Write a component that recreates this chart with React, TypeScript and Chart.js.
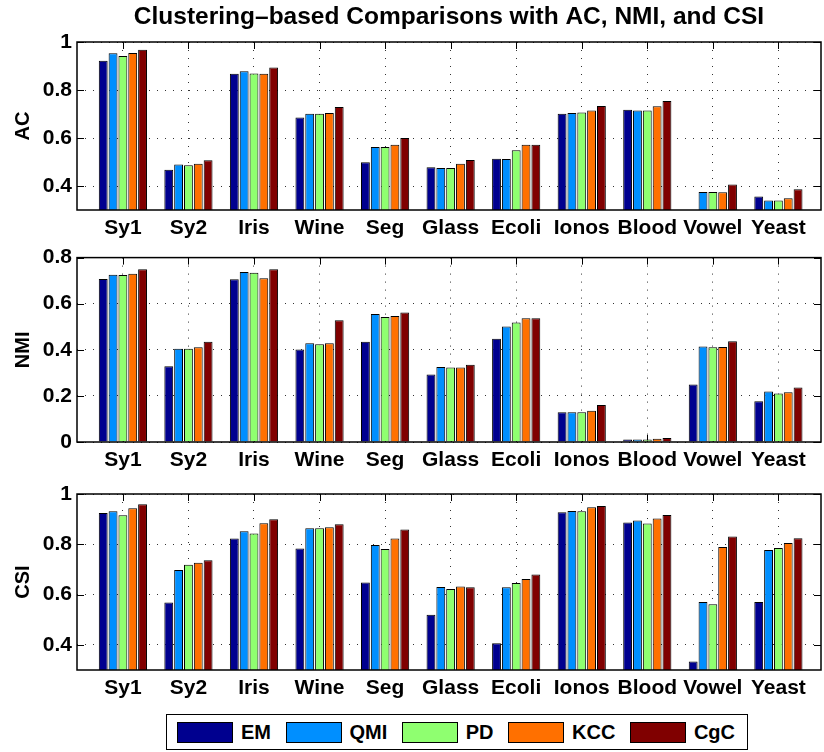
import React, { useEffect, useRef } from 'react';
import { Chart, registerables } from 'chart.js';

Chart.register(...registerables);

const categories = ['Sy1', 'Sy2', 'Iris', 'Wine', 'Seg', 'Glass', 'Ecoli', 'Ionos', 'Blood', 'Vowel', 'Yeast'];
const methods = ['EM', 'QMI', 'PD', 'KCC', 'CgC'];
const methodColors = ['#00008F', '#008FFF', '#8FFF70', '#FF7000', '#800000'];

// rows follow the order of `methods`
const acValues = [
  [0.922, 0.468, 0.868, 0.685, 0.499, 0.478, 0.514, 0.701, 0.718, null, 0.356],
  [0.953, 0.49, 0.878, 0.701, 0.562, 0.475, 0.512, 0.704, 0.715, 0.375, 0.34],
  [0.942, 0.486, 0.869, 0.701, 0.562, 0.475, 0.549, 0.706, 0.715, 0.375, 0.34],
  [0.954, 0.493, 0.868, 0.704, 0.572, 0.493, 0.572, 0.715, 0.732, 0.374, 0.349],
  [0.968, 0.507, 0.894, 0.729, 0.6, 0.508, 0.572, 0.733, 0.754, 0.406, 0.386],
];
const nmiValues = [
  [0.707, 0.329, 0.706, 0.401, 0.435, 0.293, 0.448, 0.129, 0.011, 0.25, 0.177],
  [0.726, 0.405, 0.738, 0.428, 0.555, 0.325, 0.501, 0.129, 0.011, 0.414, 0.219],
  [0.724, 0.405, 0.734, 0.424, 0.542, 0.323, 0.518, 0.129, 0.011, 0.411, 0.21],
  [0.73, 0.411, 0.71, 0.428, 0.547, 0.323, 0.537, 0.136, 0.014, 0.412, 0.216],
  [0.75, 0.435, 0.75, 0.528, 0.562, 0.335, 0.537, 0.16, 0.017, 0.437, 0.236],
];
const csiValues = [
  [0.924, 0.568, 0.823, 0.783, 0.648, 0.52, 0.406, 0.927, 0.887, 0.334, 0.57],
  [0.931, 0.698, 0.852, 0.864, 0.797, 0.63, 0.629, 0.932, 0.895, 0.57, 0.777],
  [0.915, 0.719, 0.843, 0.864, 0.781, 0.622, 0.646, 0.931, 0.883, 0.562, 0.785],
  [0.943, 0.727, 0.884, 0.868, 0.823, 0.632, 0.662, 0.947, 0.903, 0.789, 0.805],
  [0.959, 0.737, 0.9, 0.88, 0.859, 0.629, 0.68, 0.952, 0.916, 0.831, 0.824],
];

const acTicks = [0.4, 0.6, 0.8, 1];
const nmiTicks = [0, 0.2, 0.4, 0.6, 0.8];
const csiTicks = [0.4, 0.6, 0.8, 1];

const chartTitle = 'Clustering\u2013based Comparisons with AC, NMI, and CSI';

const FONT = "'Liberation Sans', Arial, Helvetica, sans-serif";

const frameTicksPlugin = {
  id: 'frameTicks',
  beforeDatasetsDraw(chart: any) {
    const { ctx, chartArea: a, scales } = chart;
    const tl = 7;
    ctx.save();
    ctx.strokeStyle = '#000';
    ctx.lineWidth = 1;
    ctx.beginPath();
    scales.x.ticks.forEach((t: any) => {
      const x = Math.round(scales.x.getPixelForValue(t.value)) + 0.5;
      ctx.moveTo(x, a.top);
      ctx.lineTo(x, a.top + tl);
      ctx.moveTo(x, a.bottom);
      ctx.lineTo(x, a.bottom - tl);
    });
    scales.y.ticks.forEach((t: any) => {
      const y = Math.round(scales.y.getPixelForValue(t.value)) + 0.5;
      ctx.moveTo(a.left, y);
      ctx.lineTo(a.left + tl, y);
      ctx.moveTo(a.right, y);
      ctx.lineTo(a.right - tl, y);
    });
    ctx.stroke();
    ctx.restore();
  },
  afterDatasetsDraw(chart: any) {
    const { ctx, chartArea: a } = chart;
    ctx.save();
    ctx.strokeStyle = '#000';
    ctx.lineWidth = 1.5;
    ctx.strokeRect(a.left, a.top, a.right - a.left, a.bottom - a.top);
    ctx.restore();
  },
};

type PanelProps = {
  top: number;
  height: number;
  padTop: number;
  xAxisH: number;
  values: (number | null)[][];
  ticks: number[];
  yMin: number;
  yMax: number;
  yLabel: string;
  title?: string;
};

function Panel({ top, height, padTop, xAxisH, values, ticks, yMin, yMax, yLabel, title }: PanelProps) {
  const ref = useRef<HTMLCanvasElement>(null);
  useEffect(() => {
    const chart = new Chart(ref.current as HTMLCanvasElement, {
      type: 'bar',
      data: {
        datasets: methods.map((m, i) => ({
          label: m,
          data: values[i].map((v, j) => ({ x: j + 1, y: v })) as any,
          backgroundColor: methodColors[i],
          borderColor: '#000',
          borderWidth: 1,
          categoryPercentage: 0.75,
          barPercentage: 0.9,
        })),
      },
      options: {
        animation: false,
        responsive: false,
        devicePixelRatio: 1,
        layout: { padding: { top: padTop, left: 0, right: 3, bottom: 0 } },
        plugins: {
          legend: { display: false },
          tooltip: { enabled: false },
          title: title
            ? {
                display: true,
                text: title,
                fullSize: false,
                color: '#000',
                font: { family: FONT, size: 24.5, weight: 'bold' },
                padding: { top: 2.5, bottom: 10.1 },
              }
            : { display: false },
        },
        scales: {
          x: {
            type: 'linear',
            min: 0.3,
            max: 11.65,
            offset: false,
            afterBuildTicks: (s: any) => {
              s.ticks = categories.map((_, i) => ({ value: i + 1 }));
            },
            afterFit: (s: any) => {
              s.height = xAxisH;
            },
            grid: { offset: false, drawTicks: false, color: '#333', lineWidth: 1 },
            border: { display: false, dash: [1, 7] },
            ticks: {
              autoSkip: false,
              maxRotation: 0,
              minRotation: 0,
              padding: 6,
              color: '#000',
              font: { family: FONT, size: 21, weight: 'bold' },
              callback: (v: any) => categories[Math.round(v) - 1] ?? '',
            },
          },
          y: {
            type: 'linear',
            min: yMin,
            max: yMax,
            afterBuildTicks: (s: any) => {
              s.ticks = ticks.map((v) => ({ value: v }));
            },
            afterFit: (s: any) => {
              s.width = 77;
            },
            grid: { drawTicks: false, color: '#333', lineWidth: 1 },
            border: { display: false, dash: [1, 7] },
            title: {
              display: true,
              text: yLabel,
              color: '#000',
              font: { family: FONT, size: 20, weight: 'bold' },
              padding: { top: 11, bottom: 0 },
            },
            ticks: {
              padding: 5,
              color: '#000',
              font: { family: FONT, size: 21, weight: 'bold' },
              callback: (v: any) => String(Number(Number(v).toFixed(2))),
            },
          },
        },
      } as any,
      plugins: [frameTicksPlugin],
    });
    return () => chart.destroy();
  }, []);
  return (
    <div style={{ position: 'absolute', left: 0, top, width: 824, height }}>
      <canvas ref={ref} width={824} height={height} style={{ display: 'block', width: 824, height }} />
    </div>
  );
}

function Legend() {
  return (
    <div
      style={{
        position: 'absolute',
        left: 166,
        top: 714,
        height: 34,
        display: 'flex',
        alignItems: 'center',
        padding: '0 12px 0 10px',
        border: '1.5px solid #000',
        background: '#fff',
        fontFamily: FONT,
        fontWeight: 'bold',
        fontSize: 20,
        color: '#000',
      }}
    >
      {methods.map((m, i) => (
        <div key={m} style={{ display: 'flex', alignItems: 'center', marginRight: i < methods.length - 1 ? 14.5 : 0 }}>
          <span
            style={{
              display: 'inline-block',
              width: 54,
              height: 19,
              background: methodColors[i],
              border: '1px solid #000',
            }}
          />
          <span style={{ marginLeft: 8, lineHeight: '22px' }}>{m}</span>
        </div>
      ))}
    </div>
  );
}

export default function App() {
  return (
    <div style={{ position: 'absolute', left: 0, top: 0, width: 824, height: 752, background: '#fff', overflow: 'hidden' }}>
      <Panel top={0} height={240} padTop={0} xAxisH={30} values={acValues} ticks={acTicks} yMin={0.3} yMax={1} yLabel="AC" title={chartTitle} />
      <Panel top={240} height={232} padTop={16} xAxisH={30} values={nmiValues} ticks={nmiTicks} yMin={0} yMax={0.8} yLabel="NMI" />
      <Panel top={472} height={230} padTop={22} xAxisH={32} values={csiValues} ticks={csiTicks} yMin={0.3} yMax={1} yLabel="CSI" />
      <Legend />
    </div>
  );
}
